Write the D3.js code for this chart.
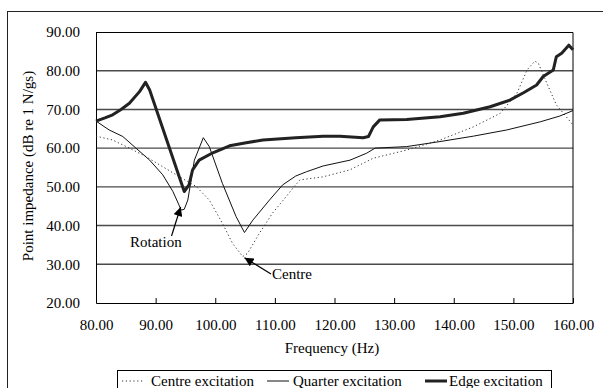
<!DOCTYPE html>
<meta charset="utf-8">
<script src="https://d3js.org/d3.v7.min.js"></script>
<style>
  body { margin: 0; background: #fff; }
  svg text { font-family: "Liberation Serif", Tinos, "Times New Roman", Times, "DejaVu Serif", serif !important; }
</style>
<div id="my_dataviz"></div>
<script>

    // data (frequency in Hz, impedance in dB)
    const centreFreq = [80, 82.8, 85.6, 88.4, 91.2, 94.0, 96.8, 99.0, 101.2, 102.9, 104.6, 105.4, 107.4, 109.6, 111.9, 113.2, 114.2, 118.1, 122.6, 126.5, 132.1, 137.7, 143.3, 147.8, 150.6, 152.3, 153.6, 154.2, 155.6, 157.2, 160];
    const centreVals = [63.1, 62.1, 60.0, 57.8, 55.2, 52.6, 50.1, 46.6, 40.6, 35.4, 32.0, 32.8, 38.0, 43.2, 47.5, 50.0, 51.8, 52.6, 54.4, 57.4, 59.5, 62.1, 65.5, 69.0, 74.2, 80.2, 82.5, 81.9, 76.8, 71.2, 66.0];

    const quarterFreq = [80, 82.2, 84.5, 86.7, 89.0, 91.2, 92.9, 94.3, 94.8, 95.4, 96.5, 98.0, 99.0, 101.2, 103.5, 104.9, 106.3, 109.1, 111.3, 113.5, 115.3, 118.1, 122.6, 125.4, 126.8, 132.1, 137.7, 143.3, 148.9, 154.5, 157.8, 160];
    const quarterVals = [67.0, 64.7, 63.0, 60.0, 56.9, 53.1, 48.8, 44.0, 44.2, 46.6, 56.9, 62.7, 60.4, 50.9, 42.3, 38.2, 41.4, 46.6, 50.5, 52.8, 53.9, 55.4, 56.9, 58.7, 60.0, 60.4, 61.7, 63.1, 64.7, 66.8, 68.3, 69.7];

    const edgeFreq = [80, 81.5, 82.8, 84.2, 85.6, 87.3, 88.3, 89.0, 94.8, 95.6, 96.2, 97.3, 99.6, 102.4, 105.2, 108.0, 113.5, 118.1, 120.9, 124.8, 125.7, 126.5, 127.6, 132.1, 137.7, 141.6, 146.1, 149.4, 151.7, 153.9, 155.0, 156.7, 157.2, 158.1, 159.3, 160];
    const edgeVals = [67.0, 67.8, 68.6, 70.0, 71.6, 74.6, 77.0, 75.0, 48.8, 50.5, 54.4, 56.9, 58.8, 60.6, 61.4, 62.1, 62.7, 63.1, 63.1, 62.7, 63.0, 65.5, 67.3, 67.4, 68.1, 69.0, 70.7, 72.4, 74.3, 76.3, 78.5, 80.2, 83.6, 84.5, 86.6, 85.4];

    const xTicks = [80, 90, 100, 110, 120, 130, 140, 150, 160];
    const yTicks = [20, 30, 40, 50, 60, 70, 80, 90];

    const seriesNames = ["Centre excitation", "Quarter excitation", "Edge excitation"];

    // annotations: label, text position, arrow tip (data units)
    const notes = [
      {label: "Rotation", tx: 130, ty: 247, fx: 94.2, fy: 44.8, sx: 171.5, sy: 236},
      {label: "Centre", tx: 272, ty: 279, fx: 104.9, fy: 31.7, sx: 271, sy: 274}
    ];

    const W = 603, H = 388;
    const margin = {top: 32, right: 30, bottom: 85, left: 96},
        width = 573 - margin.left,
        height = 303 - margin.top;

    const svg0 = d3.select("#my_dataviz")
      .append("svg")
        .attr("width", W)
        .attr("height", H);

    // outer chart border (runs off the right / bottom of the crop)
    svg0.append("rect")
      .attr("x", 7.5).attr("y", 11.5)
      .attr("width", 620).attr("height", 420)
      .attr("fill", "none")
      .attr("stroke", "#222")
      .attr("stroke-width", 1);

    const svg = svg0.append("g")
      .attr("transform", `translate(${margin.left}, ${margin.top})`);

    const x = d3.scaleLinear().domain([80, 160]).range([0, width]);
    const y = d3.scaleLinear().domain([20, 90]).range([height, 0]);

    // horizontal gridlines
    svg.append("g")
      .selectAll("line")
      .data(yTicks.filter(d => d > 20 && d < 90))
      .join("line")
        .attr("x1", 0).attr("x2", width)
        .attr("y1", d => y(d)).attr("y2", d => y(d))
        .attr("stroke", "#4a4a4a")
        .attr("stroke-width", 1.4);

    // plot frame top / right
    svg.append("path")
      .attr("d", `M0,0.5H${width}V${height}`)
      .attr("fill", "none")
      .attr("stroke", "#000")
      .attr("stroke-width", 1);

    // Y axis
    const yAxis = svg.append("g")
      .call(d3.axisLeft(y).tickValues(yTicks).tickSize(0).tickPadding(16).tickFormat(d3.format(".2f")));
    yAxis.attr("font-family", null);
    yAxis.select(".domain").attr("stroke", "#000");
    yAxis.selectAll("text")
      .attr("font-size", 15)
      .attr("fill", "#000");

    // X axis with inward ticks
    const xAxis = svg.append("g")
      .attr("transform", `translate(0, ${height})`)
      .call(d3.axisBottom(x).tickValues(xTicks).tickSizeInner(-5).tickSizeOuter(0).tickPadding(16).tickFormat(d3.format(".2f")));
    xAxis.attr("font-family", null);
    xAxis.select(".domain").attr("stroke", "#000");
    xAxis.selectAll(".tick line").attr("stroke", "#000");
    xAxis.selectAll("text")
      .attr("font-size", 15)
      .attr("fill", "#000");

    // axis titles
    svg0.append("text")
      .attr("text-anchor", "middle")
      .attr("x", 332)
      .attr("y", 353)
      .style("font-size", "15px")
      .text("Frequency (Hz)");

    svg0.append("text")
      .attr("text-anchor", "middle")
      .attr("transform", "translate(33, 166) rotate(-90)")
      .style("font-size", "15px")
      .text("Point impedance (dB re 1 N/gs)");

    // lines
    const line = d3.line()
      .x(d => x(d[0]))
      .y(d => y(d[1]));

    const series = [
      {name: seriesNames[0], data: d3.zip(centreFreq, centreVals), stroke: "#333", w: 1, dash: "1.2,2.6"},
      {name: seriesNames[1], data: d3.zip(quarterFreq, quarterVals), stroke: "#111", w: 1, dash: null},
      {name: seriesNames[2], data: d3.zip(edgeFreq, edgeVals), stroke: "#222", w: 3, dash: null}
    ];

    svg.selectAll(".series")
      .data(series)
      .join("path")
        .attr("class", "series")
        .attr("fill", "none")
        .attr("stroke", d => d.stroke)
        .attr("stroke-width", d => d.w)
        .attr("stroke-dasharray", d => d.dash)
        .attr("stroke-linejoin", "round")
        .attr("d", d => line(d.data));

    // arrow marker
    svg0.append("defs").append("marker")
      .attr("id", "arrow")
      .attr("viewBox", "0 0 10 10")
      .attr("refX", 10).attr("refY", 5)
      .attr("markerWidth", 10).attr("markerHeight", 9)
      .attr("markerUnits", "userSpaceOnUse")
      .attr("orient", "auto")
      .append("path")
        .attr("d", "M0,0L10,5L0,10Z")
        .attr("fill", "#000");

    notes.forEach(n => {
      svg0.append("line")
        .attr("x1", n.sx).attr("y1", n.sy)
        .attr("x2", margin.left + x(n.fx)).attr("y2", margin.top + y(n.fy))
        .attr("stroke", "#000")
        .attr("stroke-width", 1.2)
        .attr("marker-end", "url(#arrow)");
      svg0.append("text")
        .attr("x", n.tx).attr("y", n.ty)
        .style("font-size", "15px")
        .text(n.label);
    });

    // legend
    const lg = svg0.append("g");
    lg.append("rect")
      .attr("x", 117.5).attr("y", 370.5)
      .attr("width", 434).attr("height", 40)
      .attr("fill", "#fff")
      .attr("stroke", "#000");

    const legendPos = [
      {lx: 122, tx: 151},
      {lx: 267, tx: 293},
      {lx: 425, tx: 449}
    ];
    series.forEach((s, i) => {
      const p = legendPos[i];
      lg.append("line")
        .attr("x1", p.lx).attr("x2", p.lx + 22)
        .attr("y1", 381).attr("y2", 381)
        .attr("stroke", s.stroke)
        .attr("stroke-width", s.w)
        .attr("stroke-dasharray", s.dash);
      lg.append("text")
        .attr("x", p.tx).attr("y", 385.5)
        .style("font-size", "15px")
        .text(s.name);
    });

</script>
